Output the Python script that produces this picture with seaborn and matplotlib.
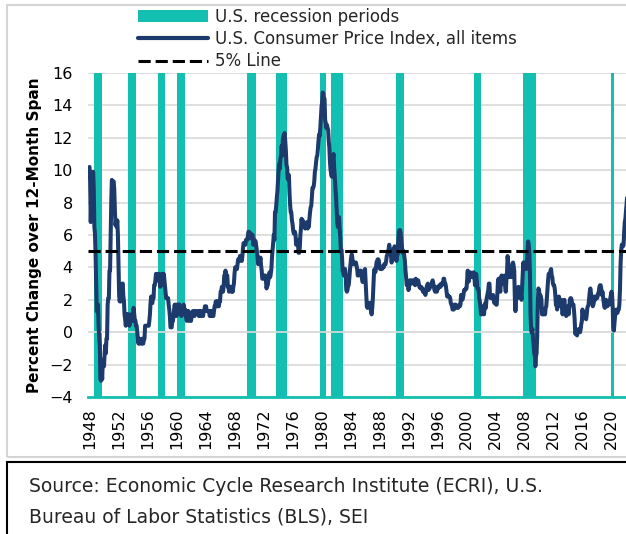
import numpy as np
import pandas as pd
import matplotlib
matplotlib.use("Agg")
import matplotlib.pyplot as plt
import seaborn as sns
from matplotlib.patches import Patch, Rectangle
from matplotlib.lines import Line2D

# monthly CPI, % change over 12 months (Jan 1948 - Mar 2022)
cpi_1948_1959 = [
    10.2, 9.3, 6.8, 8.3, 9.4, 9.5, 9.9, 8.9, 6.5, 6.1, 4.8, 3.0,
    1.3, 1.3, 1.7, 0.4, -0.4, -0.8, -2.9, -3.0, -2.4, -2.9, -1.7, -2.1,
    -2.1, -1.3, -0.8, -1.3, -0.4, -0.4, 1.7, 2.1, 2.1, 3.8, 3.8, 5.9,
    8.1, 9.4, 9.3, 9.3, 9.3, 8.8, 7.5, 6.6, 6.9, 6.5, 6.9, 6.0,
    4.3, 2.3, 1.9, 2.3, 1.9, 2.3, 3.0, 3.0, 2.2, 1.9, 1.1, 0.8,
    0.4, 0.8, 1.1, 0.8, 1.1, 1.1, 0.4, 0.7, 0.7, 1.1, 0.7, 0.7,
    1.1, 1.5, 1.1, 0.7, 0.7, 0.4, 0.4, 0.0, -0.4, -0.7, -0.4, -0.7,
    -0.7, -0.7, -0.7, -0.4, -0.7, -0.7, -0.4, -0.4, 0.4, 0.4, 0.4, 0.4,
    0.4, 0.4, 0.4, 0.7, 1.1, 1.8, 2.2, 1.8, 1.8, 2.1, 2.1, 2.9,
    2.9, 3.2, 3.6, 3.6, 3.6, 3.2, 3.2, 3.6, 3.2, 2.8, 3.2, 2.9,
    3.6, 3.2, 3.6, 3.6, 3.2, 2.8, 2.4, 2.1, 2.1, 2.1, 2.1, 1.7,
    1.4, 1.0, 0.3, 0.3, 0.3, 0.7, 0.7, 1.0, 1.4, 1.7, 1.4, 1.7,
]
cpi_1960s = [
    1.0, 1.7, 1.4, 1.7, 1.7, 1.7, 1.4, 1.4, 1.0, 1.4, 1.4, 1.4,
    1.7, 1.4, 1.4, 1.0, 1.0, 0.7, 1.3, 1.0, 1.3, 0.7, 0.7, 0.7,
    0.7, 1.0, 1.0, 1.3, 1.3, 1.3, 1.0, 1.3, 1.3, 1.3, 1.3, 1.3,
    1.3, 1.0, 1.3, 1.0, 1.0, 1.3, 1.3, 1.3, 1.0, 1.3, 1.3, 1.6,
    1.6, 1.6, 1.3, 1.3, 1.3, 1.3, 1.3, 1.0, 1.3, 1.0, 1.3, 1.0,
    1.0, 1.0, 1.3, 1.6, 1.6, 1.9, 1.6, 1.9, 1.6, 1.9, 1.6, 1.9,
    1.9, 2.5, 2.5, 2.8, 2.8, 2.5, 2.8, 3.5, 3.5, 3.8, 3.5, 3.5,
    3.5, 2.8, 2.8, 2.5, 2.8, 2.8, 2.8, 2.5, 2.8, 2.5, 2.8, 3.0,
    3.6, 4.0, 4.0, 3.9, 3.9, 4.2, 4.5, 4.5, 4.4, 4.7, 4.7, 4.7,
    4.4, 4.7, 5.2, 5.5, 5.5, 5.5, 5.4, 5.7, 5.7, 5.7, 5.9, 6.2,
]
cpi_1970s = [
    6.2, 6.1, 5.8, 6.1, 6.0, 6.0, 6.0, 5.4, 5.7, 5.7, 5.6, 5.6,
    5.3, 5.0, 4.7, 4.2, 4.4, 4.6, 4.4, 4.6, 4.1, 3.8, 3.3, 3.3,
    3.3, 3.5, 3.5, 3.5, 3.2, 2.7, 2.9, 2.9, 3.2, 3.4, 3.7, 3.4,
    3.6, 3.9, 4.6, 5.1, 5.5, 6.0, 5.7, 7.4, 7.4, 7.8, 8.3, 8.7,
    9.4, 10.0, 10.4, 10.1, 10.7, 10.9, 11.5, 10.9, 11.9, 12.1, 12.2, 12.3,
    11.8, 11.2, 10.3, 10.2, 9.5, 9.4, 9.7, 8.6, 7.9, 7.4, 7.4, 6.9,
    6.7, 6.3, 6.1, 6.1, 6.2, 6.0, 5.4, 5.7, 5.5, 5.5, 4.9, 4.9,
    5.2, 6.0, 6.4, 7.0, 6.7, 6.9, 6.8, 6.6, 6.6, 6.4, 6.7, 6.7,
    6.8, 6.4, 6.6, 6.5, 7.0, 7.4, 7.7, 7.8, 8.3, 8.9, 8.9, 9.0,
    9.3, 9.9, 10.1, 10.5, 10.8, 10.9, 11.3, 11.8, 12.2, 12.1, 12.6, 13.3,
]
cpi_1980s = [
    13.9, 14.2, 14.8, 14.7, 14.4, 14.4, 13.1, 12.9, 12.6, 12.8, 12.6, 12.5,
    11.8, 11.4, 10.5, 10.0, 9.8, 9.6, 10.8, 10.8, 11.0, 10.1, 9.6, 8.9,
    8.4, 7.6, 6.8, 6.5, 6.7, 7.1, 6.4, 5.9, 5.0, 5.1, 4.6, 3.8,
    3.7, 3.5, 3.6, 3.9, 3.5, 2.6, 2.5, 2.6, 2.9, 2.9, 3.3, 3.8,
    4.2, 4.6, 4.8, 4.6, 4.2, 4.2, 4.2, 4.3, 4.3, 4.3, 4.1, 3.9,
    3.5, 3.5, 3.7, 3.7, 3.8, 3.8, 3.6, 3.3, 3.1, 3.2, 3.5, 3.8,
    3.9, 3.1, 2.2, 1.6, 1.5, 1.8, 1.6, 1.6, 1.8, 1.5, 1.3, 1.1,
    1.5, 2.1, 3.0, 3.8, 3.9, 3.7, 3.9, 4.3, 4.4, 4.5, 4.5, 4.4,
    4.0, 3.9, 3.9, 3.9, 3.9, 4.0, 4.1, 4.0, 4.2, 4.2, 4.2, 4.4,
    4.7, 4.8, 5.0, 5.1, 5.4, 5.2, 5.0, 4.7, 4.3, 4.5, 4.7, 4.6,
]
cpi_1990s = [
    5.2, 5.3, 5.2, 4.7, 4.4, 4.7, 4.8, 5.6, 6.2, 6.3, 6.3, 6.1,
    5.7, 5.3, 4.9, 4.9, 5.0, 4.7, 4.4, 3.8, 3.4, 2.9, 3.0, 3.1,
    2.6, 2.8, 3.2, 3.2, 3.0, 3.1, 3.2, 3.1, 3.0, 3.2, 3.0, 2.9,
    3.3, 3.2, 3.1, 3.2, 3.2, 3.0, 2.8, 2.8, 2.7, 2.8, 2.7, 2.7,
    2.5, 2.5, 2.5, 2.4, 2.3, 2.5, 2.8, 2.9, 3.0, 2.6, 2.7, 2.7,
    2.8, 2.9, 2.9, 3.1, 3.2, 3.0, 2.8, 2.6, 2.5, 2.8, 2.6, 2.5,
    2.7, 2.7, 2.8, 2.9, 2.9, 2.8, 3.0, 2.9, 3.0, 3.0, 3.3, 3.3,
    3.0, 3.0, 2.8, 2.5, 2.2, 2.3, 2.2, 2.2, 2.2, 2.1, 1.8, 1.7,
    1.6, 1.4, 1.4, 1.4, 1.7, 1.7, 1.7, 1.6, 1.5, 1.5, 1.5, 1.6,
    1.7, 1.6, 1.7, 2.3, 2.1, 2.0, 2.1, 2.3, 2.6, 2.6, 2.6, 2.7,
]
cpi_2000s = [
    2.7, 3.2, 3.8, 3.1, 3.2, 3.7, 3.7, 3.4, 3.5, 3.4, 3.4, 3.4,
    3.7, 3.5, 2.9, 3.3, 3.6, 3.2, 2.7, 2.7, 2.6, 2.1, 1.9, 1.6,
    1.1, 1.1, 1.5, 1.6, 1.2, 1.1, 1.5, 1.8, 1.5, 2.0, 2.2, 2.4,
    2.6, 3.0, 3.0, 2.2, 2.1, 2.1, 2.1, 2.2, 2.3, 2.0, 1.8, 1.9,
    1.9, 1.7, 1.7, 2.3, 3.1, 3.3, 3.0, 2.7, 2.5, 3.2, 3.5, 3.3,
    3.0, 3.0, 3.1, 3.5, 2.8, 2.5, 3.2, 3.6, 4.7, 4.3, 3.5, 3.4,
    4.0, 3.6, 3.4, 3.5, 4.2, 4.3, 4.1, 3.8, 2.1, 1.3, 2.0, 2.5,
    2.1, 2.4, 2.8, 2.6, 2.7, 2.7, 2.4, 2.0, 2.8, 3.5, 4.3, 4.1,
    4.3, 4.0, 4.0, 3.9, 4.2, 5.0, 5.6, 5.4, 4.9, 3.7, 1.1, 0.1,
    0.0, 0.2, -0.4, -0.7, -1.3, -1.4, -2.1, -1.5, -1.3, -0.2, 1.8, 2.7,
]
cpi_2010s = [
    2.6, 2.1, 2.3, 2.2, 2.0, 1.1, 1.2, 1.1, 1.1, 1.2, 1.1, 1.5,
    1.6, 2.1, 2.7, 3.2, 3.6, 3.6, 3.6, 3.8, 3.9, 3.5, 3.4, 3.0,
    2.9, 2.9, 2.7, 2.3, 1.7, 1.7, 1.4, 1.7, 2.0, 2.2, 1.8, 1.7,
    1.6, 2.0, 1.5, 1.1, 1.4, 1.8, 2.0, 1.5, 1.2, 1.0, 1.2, 1.5,
    1.6, 1.1, 1.5, 2.0, 2.1, 2.1, 2.0, 1.7, 1.7, 1.7, 1.3, 0.8,
    -0.1, 0.0, -0.1, -0.2, 0.0, 0.1, 0.2, 0.2, 0.0, 0.2, 0.5, 0.7,
    1.4, 1.0, 0.9, 1.1, 1.0, 1.0, 0.8, 1.1, 1.5, 1.6, 1.7, 2.1,
    2.5, 2.7, 2.4, 2.2, 1.9, 1.6, 1.7, 1.9, 2.2, 2.0, 2.2, 2.1,
    2.1, 2.2, 2.4, 2.5, 2.8, 2.9, 2.9, 2.7, 2.3, 2.5, 2.2, 1.9,
    1.6, 1.5, 1.9, 2.0, 1.8, 1.6, 1.8, 1.7, 1.7, 1.8, 2.1, 2.3,
]
cpi_2020s = [
    2.5, 2.3, 1.5, 0.3, 0.1, 0.6, 1.0, 1.3, 1.4, 1.2, 1.2, 1.4,
    1.4, 1.7, 2.6, 4.2, 5.0, 5.4, 5.4, 5.3, 5.4, 6.2, 6.8, 7.0,
    7.5, 7.9, 8.5,
]

# recession shading (start, end) in decimal years
recession_start = [1948.65, 1953.35, 1957.4, 1960.07, 1969.68, 1973.68,
                   1979.8, 1981.3, 1990.32, 2001.03, 2007.75, 2019.9]
recession_end = [1949.77, 1954.4, 1958.4, 1961.17, 1970.97, 1975.28,
                 1980.62, 1983.0, 1991.34, 2002.0, 2009.59, 2020.39]

threshold = 5
year_ticks = list(range(1948, 2021, 4))
source_lines = ["Source: Economic Cycle Research Institute (ECRI), U.S.",
                "Bureau of Labor Statistics (BLS), SEI"]

TEAL = "#13BFB1"
NAVY = "#1C3A6B"

cpi = (cpi_1948_1959 + cpi_1960s + cpi_1970s + cpi_1980s + cpi_1990s
       + cpi_2000s + cpi_2010s + cpi_2020s)
dates = pd.date_range("1948-01-01", periods=len(cpi), freq="MS")
df = pd.DataFrame({"year": dates.year + (dates.month - 1) / 12, "cpi": cpi})

sns.set_theme(style="white")
plt.rcParams["font.family"] = ["DejaVu Sans"]

W, H = 626, 534
fig = plt.figure(figsize=(W / 100, H / 100), dpi=100)
ax = fig.add_axes([88 / W, (H - 397) / H, 538 / W, 324 / H])

for s, e in zip(recession_start, recession_end):
    ax.axvspan(s, e, color=TEAL, lw=0, zorder=1)
ax.axhline(0, color="#dcdcdc", lw=1.2, zorder=1.5)

sns.lineplot(data=df, x="year", y="cpi", color=NAVY, lw=2.9, ax=ax, zorder=3)
ax.axhline(threshold, color="black", lw=2.2, dashes=(4, 1.6), zorder=4)

ax.set_xlim(1947.79, 2022.0)
ax.set_ylim(-4, 16)
ax.set_yticks(range(-4, 17, 2))
ax.set_xticks(year_ticks)
ax.set_xticklabels([str(y) for y in year_ticks], rotation=90)
ax.tick_params(axis="both", length=0, labelsize=11.5, colors="black")
ax.tick_params(axis="y", pad=11)
ax.tick_params(axis="x", pad=8)
ax.yaxis.grid(True, color="#d9d9d9", lw=1.2)
ax.set_axisbelow(True)
ax.set_xlabel("")
ax.set_ylabel("Percent Change over 12-Month Span", fontsize=11,
              fontweight="bold", labelpad=5, color="black")
for side in ["left", "right", "top"]:
    ax.spines[side].set_visible(False)
ax.spines["bottom"].set_color(TEAL)
ax.spines["bottom"].set_linewidth(2)

handles = [
    Patch(facecolor=TEAL, edgecolor="none"),
    Line2D([], [], color=NAVY, lw=3),
    Line2D([], [], color="black", lw=2.2, dashes=(4, 1.6)),
]
labels = ["U.S. recession periods", "U.S. Consumer Price Index, all items",
          "5% Line"]
fig.legend(handles, labels, loc="upper left", bbox_to_anchor=(138 / W, 1 - 7.5 / H),
           frameon=False, fontsize=12, handlelength=4.2, handletextpad=0.42,
           labelspacing=0.27, borderpad=0, borderaxespad=0)

# panel and source boxes
fig.add_artist(Rectangle((7 / W, (H - 457) / H), 1.0, 452 / H, transform=fig.transFigure,
                         fill=False, edgecolor="#d4d4d4", lw=1.5))
fig.add_artist(Rectangle((7 / W, -0.05), 1.0, (H - 462) / H + 0.05, transform=fig.transFigure,
                         fill=False, edgecolor="black", lw=1.5))
fig.text(29 / W, 1 - 487 / H, source_lines[0], fontsize=13.5, va="center", ha="left")
fig.text(29 / W, 1 - 517 / H, source_lines[1], fontsize=13.5, va="center", ha="left")

fig.savefig("out.png", dpi=100)
